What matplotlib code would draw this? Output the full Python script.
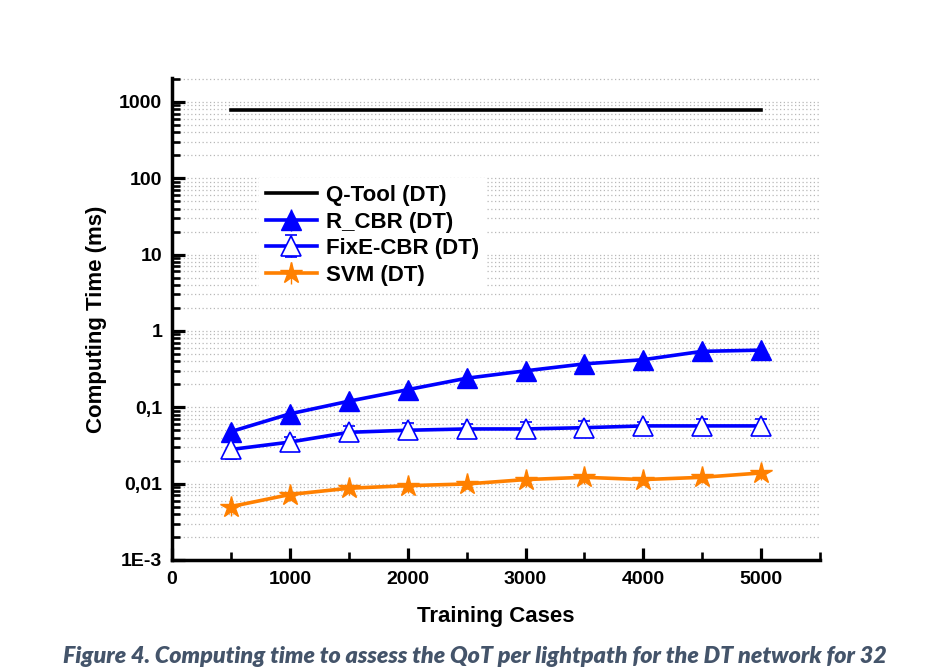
import matplotlib
matplotlib.use("Agg")
import matplotlib.pyplot as plt
from matplotlib.ticker import FixedLocator, FixedFormatter, LogLocator, MultipleLocator, NullFormatter

plt.rcParams['font.family'] = ['Liberation Sans', 'DejaVu Sans']
plt.rcParams['font.weight'] = 'bold'

# training cases on the x axis
cases = [500, 1000, 1500, 2000, 2500, 3000, 3500, 4000, 4500, 5000]

# computing time per lightpath (ms)
qtool = [780, 780, 780, 780, 780, 780, 780, 780, 780, 780]
r_cbr = [0.048, 0.082, 0.12, 0.17, 0.24, 0.30, 0.37, 0.42, 0.54, 0.56]
r_cbr_err = [0.010, 0.018, 0.026, 0.038, 0.050, 0.065, 0.080, 0.090, 0.12, 0.12]
fixe_cbr = [0.028, 0.035, 0.047, 0.050, 0.052, 0.052, 0.054, 0.057, 0.057, 0.057]
fixe_cbr_err = [0.007, 0.006, 0.010, 0.012, 0.008, 0.012, 0.012, 0.008, 0.013, 0.013]
svm = [0.0050, 0.0072, 0.0087, 0.0094, 0.0099, 0.0113, 0.0121, 0.0113, 0.0121, 0.0138]
svm_err = [0.0012, 0.0012, 0.0015, 0.0018, 0.0015, 0.0022, 0.0022, 0.0018, 0.0020, 0.0025]

y_ticks = [0.001, 0.01, 0.1, 1, 10, 100, 1000]
y_tick_labels = ['1E-3', '0,01', '0,1', '1', '10', '100', '1000']
x_ticks = [0, 1000, 2000, 3000, 4000, 5000]

caption = 'Figure 4. Computing time to assess the QoT per lightpath for the DT network for 32'

BLUE = '#0000FF'
ORANGE = '#FF8000'

fig = plt.figure(figsize=(9.37, 6.68), dpi=100)
ax = fig.add_axes([0.1836, 0.1617, 0.6916, 0.7215])

ax.plot(cases, qtool, color='black', lw=2.6, label='Q-Tool (DT)')
ax.errorbar(cases, r_cbr, yerr=r_cbr_err, color=BLUE, lw=2.6, marker='^', ms=14,
            mfc=BLUE, mec=BLUE, elinewidth=1, capsize=0, label='R_CBR (DT)')
ax.errorbar(cases, fixe_cbr, yerr=fixe_cbr_err, color=BLUE, lw=2.6, marker='^', ms=14,
            mfc='white', mec=BLUE, mew=1.2, elinewidth=1, capsize=4, capthick=1,
            label='FixE-CBR (DT)')
ax.errorbar(cases, svm, yerr=svm_err, color=ORANGE, lw=2.6, marker='*', ms=16,
            mfc=ORANGE, mec=ORANGE, elinewidth=1, capsize=0, label='SVM (DT)')

ax.set_yscale('log')
ax.set_ylim(0.001, 2050)
ax.set_xlim(0, 5500)

ax.yaxis.set_major_locator(FixedLocator(y_ticks))
ax.yaxis.set_major_formatter(FixedFormatter(y_tick_labels))
ax.yaxis.set_minor_locator(LogLocator(base=10, subs=range(2, 10), numticks=20))
ax.yaxis.set_minor_formatter(NullFormatter())
ax.xaxis.set_major_locator(FixedLocator(x_ticks))
ax.xaxis.set_minor_locator(MultipleLocator(500))

ax.grid(True, which='both', axis='y', linestyle=(0, (1, 2)), color='#b8b8b8', lw=0.9)
ax.set_axisbelow(True)

for side in ['top', 'right']:
    ax.spines[side].set_visible(False)
for side in ['left', 'bottom']:
    ax.spines[side].set_linewidth(2.5)

ax.tick_params(which='major', direction='in', length=9, width=2.3, labelsize=14)
ax.tick_params(which='minor', direction='in', length=5.5, width=1.9)
ax.tick_params(axis='x', which='major', pad=8)
ax.tick_params(axis='y', which='major', pad=7)

ax.set_xlabel('Training Cases', fontsize=16, fontweight='bold')
ax.set_ylabel('Computing Time (ms)', fontsize=16, fontweight='bold')
ax.xaxis.set_label_coords(0.5, -0.095)
ax.yaxis.set_label_coords(-0.10, 0.5)

leg = ax.legend(loc='upper left', bbox_to_anchor=(0.117, 0.815), fontsize=16,
                handlelength=2.3, labelspacing=0.25, handletextpad=0.4,
                frameon=True, fancybox=False, edgecolor='none', facecolor='white',
                framealpha=1, borderpad=0.3)

cap = fig.text(0.507, 0.0075, caption, ha='center', va='baseline',
               fontsize=15, fontstyle='italic', fontweight='heavy',
               color='#44546A', family=['Lato', 'DejaVu Sans'])

# fit caption to the page width
fig.canvas.draw()
w = cap.get_window_extent().width
cap.set_fontsize(15 * 827 / w)

fig.savefig('out.png', dpi=100)
